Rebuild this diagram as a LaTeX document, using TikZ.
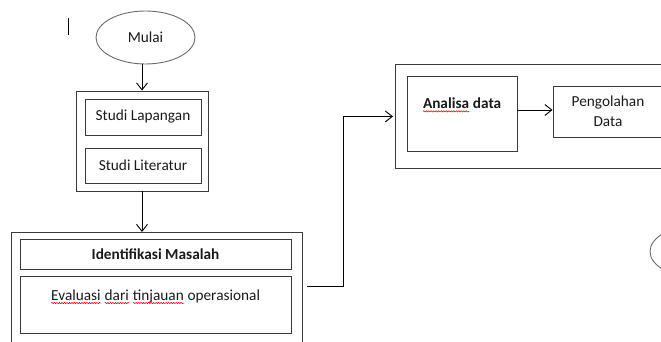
\documentclass[tikz,border=0pt]{standalone}
\usepackage{fontspec}
\setmainfont{Carlito}
\usetikzlibrary{arrows.meta, shapes.geometric, decorations.pathmorphing}
\definecolor{lineGray}{HTML}{3A3A3A}
\definecolor{ovalGray}{HTML}{6A6A6A}
\definecolor{textColor}{HTML}{1A1A1A}
\newcommand\spellErr[1]{\tikz[baseline=(w.base)]{\node[inner sep=0pt, outer sep=0pt] (w) {#1};
    \draw[red, line width=0.5pt, decorate, decoration={snake, amplitude=0.7pt, segment length=2.5pt}]
        ([yshift=-3pt]w.base west) -- ([yshift=-3pt]w.base east);}}

\begin{document}
\begin{tikzpicture}[x=1pt, y=1pt,
    box/.style={draw=lineGray, line width=0.9pt, inner sep=0pt, text=textColor,
        font=\fontsize{15.3}{17}\selectfont},
    oval/.style={draw=ovalGray, line width=0.9pt, ellipse, inner sep=0pt, text=textColor,
        font=\fontsize{15.3}{17}\selectfont},
    txt/.style={text=textColor, inner sep=0pt, font=\fontsize{15.3}{17}\selectfont},
    arr/.style={-{Straight Barb[length=7pt, width=11pt]}, line width=0.9pt}]
    \useasboundingbox (0,0) rectangle (661,342);
    \clip (0,0) rectangle (661,342);
    \draw[line width=0.8pt] (68,324) -- (68,307);
    % start and first group
    \node[oval, minimum width=99pt, minimum height=53pt] (mulai) at (145.5,304.5) {Mulai};
    \node[box, minimum width=132pt, minimum height=100pt] (studi) at (142,201) {};
    \node[box, minimum width=116pt, minimum height=36pt] (lapangan) at (143,225) {Studi Lapangan};
    \node[box, minimum width=116pt, minimum height=35pt] (literatur) at (143,176.5) {Studi Literatur};
    % second group
    \node[box, minimum width=291pt, minimum height=150pt, anchor=north west] (masalah) at (11,110) {};
    \node[box, minimum width=271pt, minimum height=30pt, font=\fontsize{15.3}{17}\selectfont\bfseries]
        (identifikasi) at (155.5,88) {Identifikasi Masalah};
    \node[box, minimum width=271pt, minimum height=57pt] (evaluasi) at (155.5,37.5) {};
    \node[txt] (evaluasiText) at (155.5,45.3)
        {\spellErr{Evaluasi} \spellErr{dari} \spellErr{tinjauan} operasional};
    % third group
    \node[box, minimum width=305pt, minimum height=104pt, anchor=north west] (analisis) at (395,278) {};
    \node[box, minimum width=110pt, minimum height=75pt] (analisa) at (462,228.5) {};
    \node[txt, font=\fontsize{15.3}{17}\selectfont\bfseries] (analisaText) at (462,237)
        {\spellErr{Analisa} data};
    \node[box, minimum width=110pt, minimum height=51pt, align=center] (pengolahan) at (608,230.5)
        {Pengolahan\\[3pt]Data};
    \node[oval, minimum width=99pt, minimum height=53pt] (selesai) at (699.5,90.5) {};
    \coordinate (keluar) at (307,55.3);
    % connectors
    \draw[arr] (studi.north |- mulai.south) -- (studi.north);
    \draw[arr] (studi.south) -- (studi.south |- masalah.north);
    \draw[arr] (keluar) -- ++(36,0) |- ([xshift=-2pt]analisis.west);
    \draw[arr] ([yshift=3.5pt]analisa.east) -- ([yshift=3.5pt]analisa.east -| pengolahan.west);
\end{tikzpicture}
\end{document}
